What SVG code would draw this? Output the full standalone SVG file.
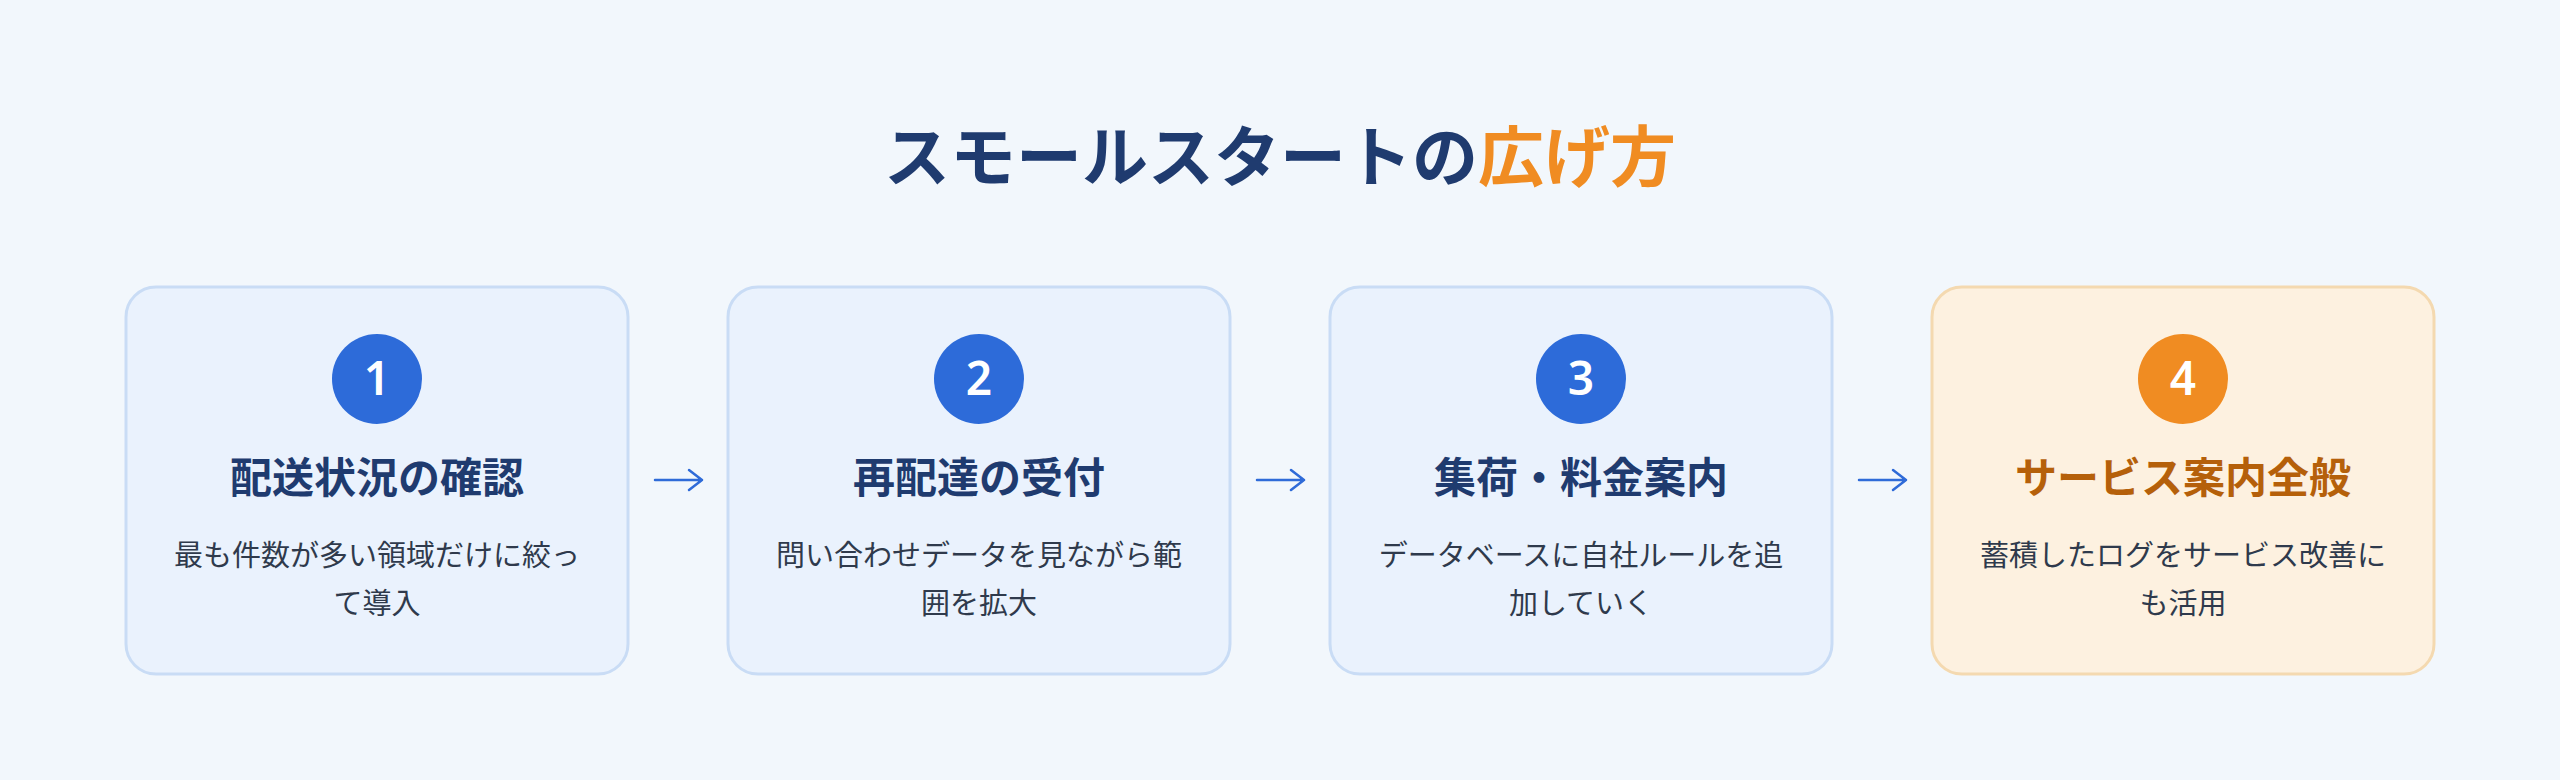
<svg xmlns="http://www.w3.org/2000/svg" width="2560" height="780" viewBox="0 0 2560 780">
<defs>
<style>
text{font-family:"Noto Sans CJK JP","Noto Sans",sans-serif;text-anchor:middle}
.title{font-size:66px;font-weight:700;fill:#1f3b6f}
.accent{fill:#f08c22}
.card-b{fill:#eaf2fd;stroke:#c9dcf5;stroke-width:3}
.card-o{fill:#fdf1e0;stroke:#f4d9b0;stroke-width:3}
.dot-b{fill:#2d6bd9}
.dot-o{fill:#f08c22}
.num{font-family:"Noto Sans","Noto Sans CJK JP",sans-serif;font-size:46px;font-weight:600;fill:#ffffff}
.head-b{font-size:42px;font-weight:700;fill:#1f3b6f}
.head-o{font-size:42px;font-weight:700;fill:#b5600a}
.desc{font-size:29px;font-weight:400;fill:#2f3a4c}
.conn{stroke:#2f6bd8;stroke-width:2.5;fill:none;stroke-linecap:round;stroke-linejoin:round}
</style>
</defs>
<rect width="2560" height="780" fill="#f2f7fc"/>
<text class="title" x="1280" y="181">スモールスタートの<tspan class="accent">広げ方</tspan></text>

<g id="step1">
<rect class="card-b" x="126" y="287" width="502" height="387" rx="30"/>
<circle class="dot-b" cx="377" cy="379" r="45"/>
<text class="num" x="377" y="395">1</text>
<text class="head-b" x="377" y="493">配送状況の確認</text>
<text class="desc" x="377" y="566">最も件数が多い領域だけに絞っ</text>
<text class="desc" x="377" y="614">て導入</text>
</g>

<g id="step2">
<rect class="card-b" x="728" y="287" width="502" height="387" rx="30"/>
<circle class="dot-b" cx="979" cy="379" r="45"/>
<text class="num" x="979" y="395">2</text>
<text class="head-b" x="979" y="493">再配達の受付</text>
<text class="desc" x="979" y="566">問い合わせデータを見ながら範</text>
<text class="desc" x="979" y="614">囲を拡大</text>
</g>

<g id="step3">
<rect class="card-b" x="1330" y="287" width="502" height="387" rx="30"/>
<circle class="dot-b" cx="1581" cy="379" r="45"/>
<text class="num" x="1581" y="395">3</text>
<text class="head-b" x="1581" y="493">集荷・料金案内</text>
<text class="desc" x="1581" y="566">データベースに自社ルールを追</text>
<text class="desc" x="1581" y="614">加していく</text>
</g>

<g id="step4">
<rect class="card-o" x="1932" y="287" width="502" height="387" rx="30"/>
<circle class="dot-o" cx="2183" cy="379" r="45"/>
<text class="num" x="2183" y="395">4</text>
<text class="head-o" x="2183" y="493">サービス案内全般</text>
<text class="desc" x="2183" y="566">蓄積したログをサービス改善に</text>
<text class="desc" x="2183" y="614">も活用</text>
</g>

<g id="connectors">
<path class="conn" d="M655 480H702M689 470L702 480L689 490"/>
<path class="conn" d="M1257 480H1304M1291 470L1304 480L1291 490"/>
<path class="conn" d="M1859 480H1906M1893 470L1906 480L1893 490"/>
</g>
</svg>
